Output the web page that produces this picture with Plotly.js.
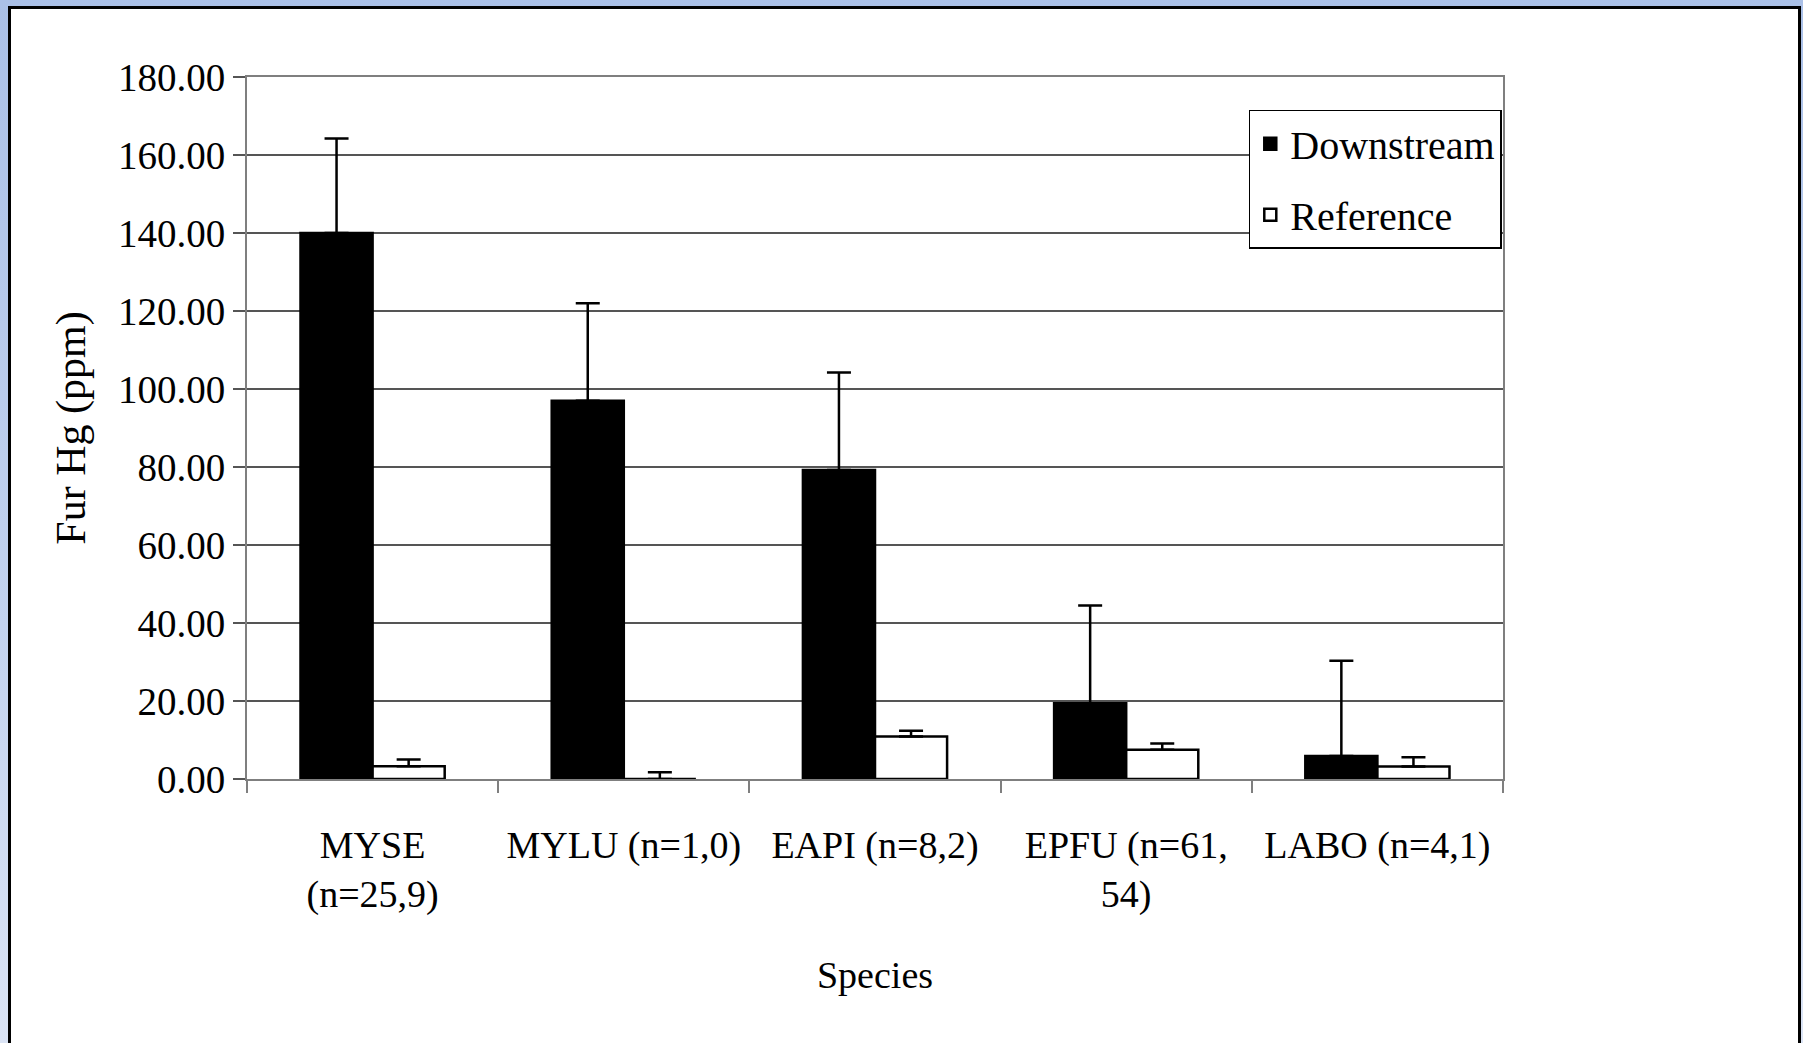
<!DOCTYPE html>
<html>
<head>
<meta charset="utf-8">
<script src="https://cdn.plot.ly/plotly-3.0.1.min.js"></script>
<style>
  html, body { margin: 0; padding: 0; width: 1803px; height: 1043px; overflow: hidden;
    background: linear-gradient(to bottom, #aac0e7 0%, #c3d3ef 60%, #dbe4f5 100%); }
  #frame { position: absolute; left: 8px; top: 6px; width: 1793px; height: 1045px;
    box-sizing: border-box; border: 3px solid #000; border-bottom: none; background: #fff; overflow: hidden; }
  #chart { width: 1787px; height: 1034px; }
</style>
</head>
<body>
<div id="frame"><div id="chart"></div></div>
<script>
// Data
const categories = ["MYSE<br>(n=25,9)", "MYLU (n=1,0)", "EAPI (n=8,2)", "EPFU (n=61,<br>54)", "LABO (n=4,1)"];
const downstream = [140.0, 97.0, 79.2, 19.4, 5.9];
const downstreamErr = [24.2, 25.0, 25.0, 25.1, 24.4];
const reference = [3.3, 0.0, 10.9, 7.5, 3.2];
const referenceErr = [1.7, 1.7, 1.5, 1.6, 2.4];
const yTickVals = [0, 20, 40, 60, 80, 100, 120, 140, 160, 180];

const FONT = '"Liberation Serif", "Times New Roman", serif';

const traces = [
  {
    type: 'bar', name: 'Downstream', x: categories, y: downstream,
    legendgroup: 'a',
    marker: { color: '#000000', line: { color: '#000000', width: 2.5 } },
    error_y: { type: 'data', array: downstreamErr, symmetric: false,
      arrayminus: downstreamErr.map(() => 0), color: '#000', thickness: 2.5, width: 12 }
  },
  {
    type: 'bar', name: 'Reference', x: categories, y: reference,
    legendgroup: 'b',
    marker: { color: '#ffffff', line: { color: '#000000', width: 2.5 } },
    error_y: { type: 'data', array: referenceErr, symmetric: false,
      arrayminus: referenceErr.map(() => 0), color: '#000', thickness: 2.5, width: 12 }
  }
];

const layout = {
  width: 1787, height: 1034,
  paper_bgcolor: '#ffffff', plot_bgcolor: '#ffffff',
  font: { family: FONT, size: 37, color: '#000' },
  margin: { l: 236, r: 295, t: 68, b: 264, pad: 0 },
  barmode: 'group', bargap: 0.426, bargroupgap: 0,
  showlegend: true,
  legend: {
    x: 0.7976, xanchor: 'left', y: 0.9534, yanchor: 'top',
    bgcolor: '#ffffff', bordercolor: '#000000', borderwidth: 1.5,
    font: { family: FONT, size: 40, color: '#000' },
    tracegroupgap: 16, traceorder: 'grouped', itemwidth: 30
  },
  xaxis: {
    type: 'category', tickangle: 0,
    showline: true, linecolor: '#7f7f7f', linewidth: 2, mirror: true,
    ticks: 'outside', tickson: 'boundaries', ticklen: 12, tickwidth: 2, tickcolor: '#7f7f7f',
    showgrid: false, ticklabelstandoff: 31,
    tickfont: { family: FONT, size: 38, color: '#000' },
    title: { text: 'Species', font: { family: FONT, size: 38, color: '#000' }, standoff: 46 },
    automargin: false
  },
  yaxis: {
    range: [0, 180], tickvals: yTickVals, tickformat: '.2f',
    showline: true, linecolor: '#7f7f7f', linewidth: 2, mirror: true,
    ticks: 'outside', ticklen: 12, tickwidth: 1.5, tickcolor: '#555',
    showgrid: true, gridcolor: '#555555', gridwidth: 1.5, zeroline: false,
    ticklabelstandoff: 0,
    tickfont: { family: FONT, size: 39, color: '#000' },
    title: { text: 'Fur Hg (ppm)', font: { family: FONT, size: 42, color: '#000' }, standoff: 19 },
    automargin: false
  }
};

Plotly.newPlot('chart', traces, layout, { displayModeBar: false, staticPlot: true });
</script>
</body>
</html>
